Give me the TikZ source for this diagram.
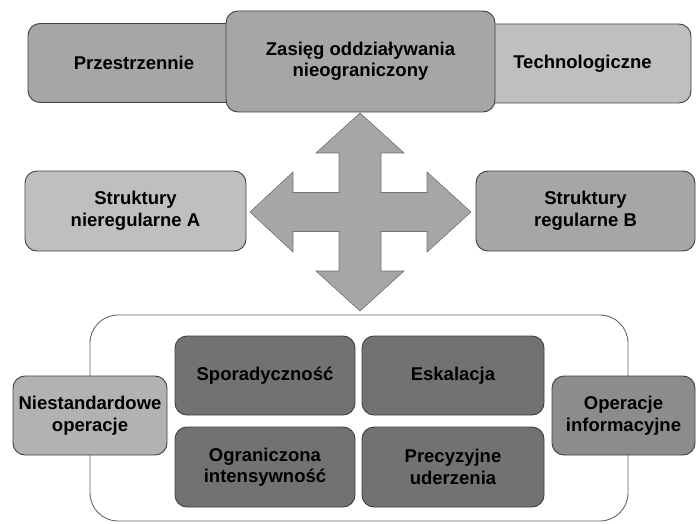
\documentclass[tikz,border=0pt]{standalone}
\usepackage{fontspec}
\setmainfont{Liberation Sans}
\definecolor{gmid}{HTML}{A6A6A6}
\definecolor{glight}{HTML}{BFBFBF}
\definecolor{gnies}{HTML}{B2B2B2}
\definecolor{ginfo}{HTML}{8C8C8C}
\definecolor{gdark}{HTML}{727272}
\definecolor{gline}{HTML}{404040}
\begin{document}
\begin{tikzpicture}[x=1pt,y=-1pt,
  box/.style={draw=gline, line width=0.9pt, rounded corners=12pt, align=center,
    font=\fontsize{18.5}{21.5}\selectfont\bfseries, inner sep=0pt, text=black},
]
\useasboundingbox (0,0) rectangle (696,524);
% container
\draw[draw=gray!80!black, line width=0.9pt, fill=white, rounded corners=28pt] (90,315) rectangle (628,521);
% top row
\node[box, fill=gmid, minimum width=212pt, minimum height=79pt] (prz) at (134,63) {Przestrzennie};
\node[box, fill=glight, minimum width=217pt, minimum height=79pt] (tech) at (582.5,63.5) {Technologiczne};
\node[box, fill=gmid, minimum width=269pt, minimum height=101pt] (zas) at (360.5,61.5) {Zasięg oddziaływania\\nieograniczony};
% middle row
\node[box, fill=glight, minimum width=221pt, minimum height=80pt] (sa) at (135.5,211) {Struktury\\nieregularne A};
\node[box, fill=gmid, minimum width=219pt, minimum height=80pt] (sb) at (585.5,211) {Struktury\\regularne B};
% cross arrow
\fill[gmid, draw=gray!90!black, line width=0.6pt]
  (360,113) -- (404,153) -- (381,153) -- (381,192.5) -- (427,192.5) -- (427,172) -- (471,212)
  -- (427,252) -- (427,231.5) -- (381,231.5) -- (381,271) -- (404,271) -- (360,311)
  -- (316,271) -- (339,271) -- (339,231.5) -- (293,231.5) -- (293,252) -- (250,212)
  -- (293,172) -- (293,192.5) -- (339,192.5) -- (339,153) -- (316,153) -- cycle;
% bottom
\node[box, fill=gnies, minimum width=154pt, minimum height=79pt] (nie) at (90,415.5) {Niestandardowe\\operacje};
\node[box, fill=ginfo, minimum width=143pt, minimum height=79pt] (inf) at (623.5,415.5) {Operacje\\informacyjne};
\node[box, fill=gdark, minimum width=180pt, minimum height=79pt] (spo) at (265,375.5) {Sporadyczność};
\node[box, fill=gdark, minimum width=182pt, minimum height=79pt] (esk) at (453,375.5) {Eskalacja};
\node[box, fill=gdark, minimum width=180pt, minimum height=80pt] (ogr) at (265,467) {Ograniczona\\intensywność};
\node[box, fill=gdark, minimum width=182pt, minimum height=80pt] (pre) at (453,467) {Precyzyjne\\uderzenia};
\end{tikzpicture}
\end{document}
